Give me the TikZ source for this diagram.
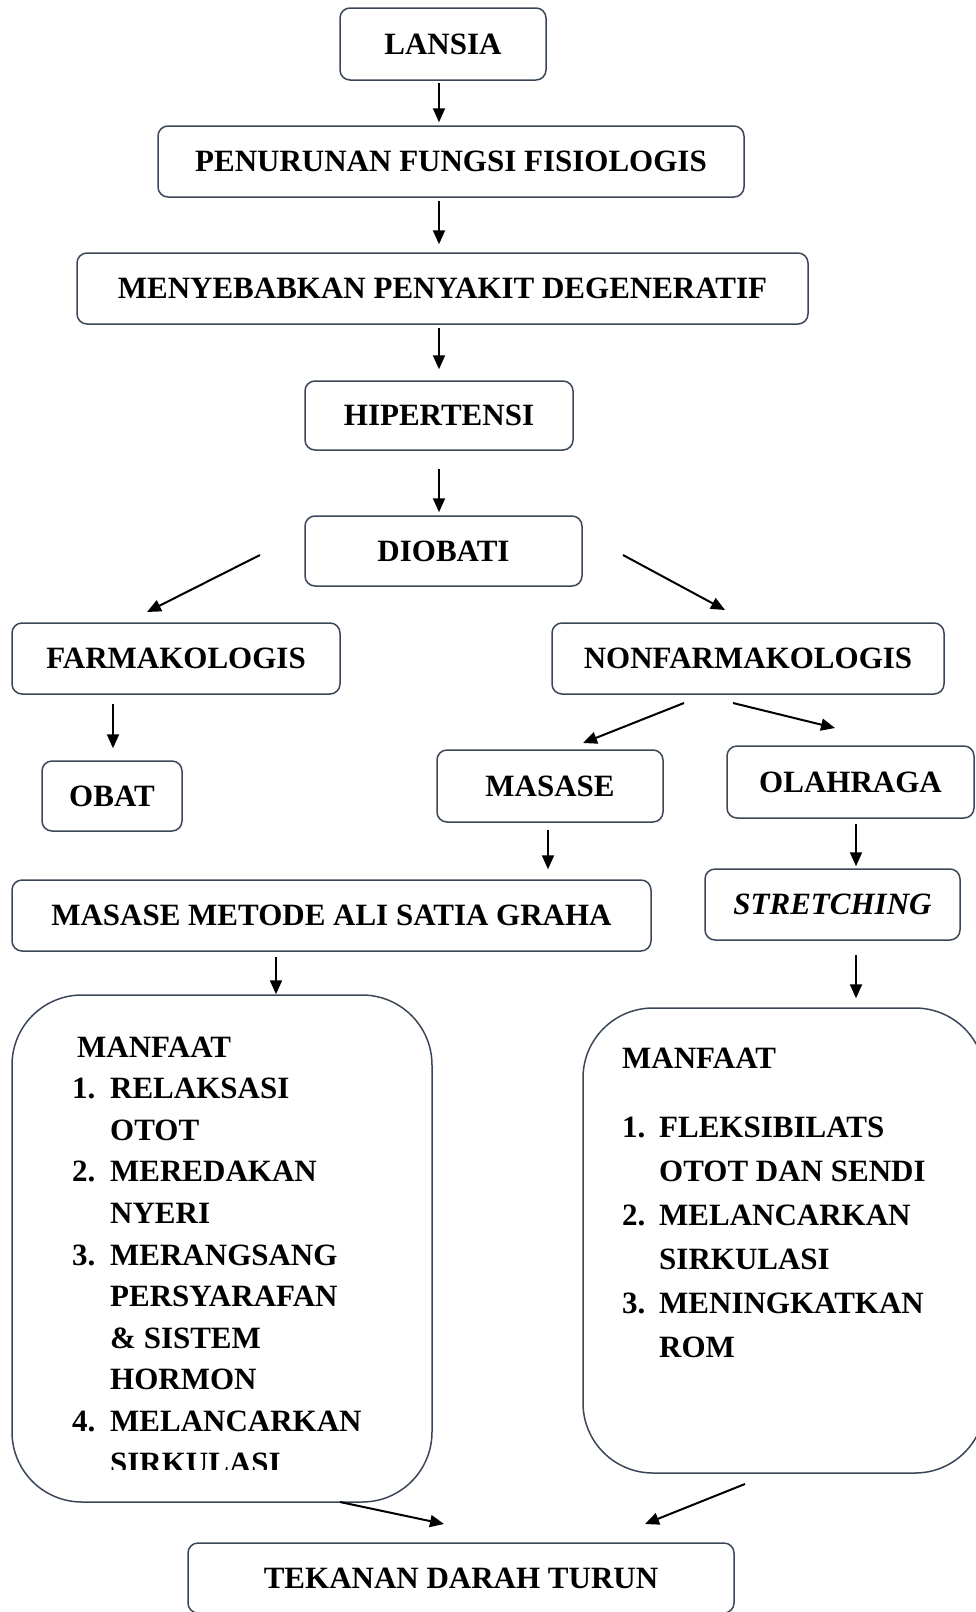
\documentclass[tikz,border=0pt]{standalone}
\usepackage{fontspec}
\setmainfont{Liberation Serif}
\usetikzlibrary{arrows.meta}
\definecolor{bord}{HTML}{3B4759}
\begin{document}
\begin{tikzpicture}[x=1pt,y=-1pt,
  box/.style={draw=bord, line width=1.5pt, rounded corners=10pt, fill=white,
    inner sep=0pt, align=center, font=\fontsize{31}{36}\selectfont\bfseries},
  bigbox/.style={draw=bord, line width=1.5pt, rounded corners=70pt, fill=white, inner sep=0pt},
  listtext/.style={inner sep=0pt, anchor=base west},
  arr/.style={draw=black, line width=2pt, -{Triangle[length=14pt,width=12pt]}}]
\useasboundingbox (0,0) rectangle (976,1612);
\fill[white] (0,0) rectangle (976,1612);

% nodes
\node[box, minimum width=206pt, minimum height=72pt] (lansia) at (443,44) {LANSIA};
\node[box, minimum width=586pt, minimum height=71pt] (pen) at (451,161.5) {PENURUNAN FUNGSI FISIOLOGIS};
\node[box, minimum width=731pt, minimum height=71pt] (meny) at (442.5,288.5) {MENYEBABKAN PENYAKIT DEGENERATIF};
\node[box, minimum width=268pt, minimum height=69pt] (hip) at (439,415.5) {HIPERTENSI};
\node[box, minimum width=277pt, minimum height=70pt] (diob) at (443.5,551) {DIOBATI};
\node[box, minimum width=328pt, minimum height=71pt] (farm) at (176,658.5) {FARMAKOLOGIS};
\node[box, minimum width=392pt, minimum height=71pt] (nonfarm) at (748,658.5) {NONFARMAKOLOGIS};
\node[box, minimum width=140pt, minimum height=70pt] (obat) at (112,796) {OBAT};
\node[box, minimum width=226pt, minimum height=72pt] (masase) at (550,786) {MASASE};
\node[box, minimum width=247pt, minimum height=72pt] (olah) at (850.5,782) {OLAHRAGA};
\node[box, minimum width=639pt, minimum height=71pt] (metode) at (331.5,915.5) {MASASE METODE ALI SATIA GRAHA};
\node[box, minimum width=255pt, minimum height=71pt] (stretch) at (832.5,904.5) {\itshape STRETCHING};
\node[bigbox, minimum width=420pt, minimum height=507pt] (manL) at (222,1248.5) {};
\node[bigbox, minimum width=402pt, minimum height=465pt] (manR) at (784,1240.5) {};
\node[box, minimum width=546pt, minimum height=70pt] (tek) at (461,1578) {TEKANAN DARAH TURUN};

% list texts
\begin{scope}
\clip (0,0) rectangle (976,1469);
\node[listtext, font=\fontsize{31}{41.6}\selectfont\bfseries] (listL) at (72,1057) {%
\begin{tabular}[t]{@{}p{38pt}@{}l@{}}
\multicolumn{2}{@{\hspace{5pt}}l@{}}{MANFAAT}\\
1. & RELAKSASI\\
   & OTOT\\
2. & MEREDAKAN\\
   & NYERI\\
3. & MERANGSANG\\
   & PERSYARAFAN\\
   & \& SISTEM\\
   & HORMON\\
4. & MELANCARKAN\\
   & SIRKULASI
\end{tabular}};
\end{scope}
\node[listtext, font=\fontsize{31}{44}\selectfont\bfseries] (listR) at (622,1068) {%
\begin{tabular}[t]{@{}p{37pt}@{}l@{}}
\multicolumn{2}{@{}l@{}}{MANFAAT}\\[25pt]
1. & FLEKSIBILATS\\
   & OTOT DAN SENDI\\
2. & MELANCARKAN\\
   & SIRKULASI\\
3. & MENINGKATKAN\\
   & ROM
\end{tabular}};

% column coordinates
\coordinate (colA) at (439,0);
\coordinate (colB) at (276,0);
\coordinate (colC) at (113,0);
\coordinate (colD) at (548,0);
\coordinate (colE) at (856,0);

% vertical arrows
\draw[arr, shorten <=2pt, shorten >=3pt] (colA |- lansia.south) -- (colA |- pen.north);
\draw[arr, shorten <=3pt, shorten >=8pt] (colA |- pen.south) -- (colA |- meny.north);
\draw[arr, shorten <=3pt, shorten >=11pt] (colA |- meny.south) -- (colA |- hip.north);
\draw[arr, shorten <=18pt, shorten >=3pt] (colA |- hip.south) -- (colA |- diob.north);
\draw[arr, shorten <=9pt, shorten >=12pt] (colC |- farm.south) -- (colC |- obat.north);
\draw[arr, shorten <=7pt, shorten >=10pt] (colD |- masase.south) -- (colD |- metode.north);
\draw[arr, shorten <=5pt, shorten >=2pt] (colE |- olah.south) -- (colE |- stretch.north);
\draw[arr, shorten <=5pt, shorten >=0pt] (colB |- metode.south) -- (colB |- manL.north);
\draw[arr, shorten <=14pt, shorten >=9pt] (colE |- stretch.south) -- (colE |- manR.north);

% diagonal arrows
\coordinate (d1s) at (260,555); \coordinate (d1e) at (147,612);
\coordinate (d2s) at (623,555); \coordinate (d2e) at (725,610);
\coordinate (d3s) at (684,703); \coordinate (d3e) at (583,743);
\coordinate (d4s) at (733,703); \coordinate (d4e) at (835,728);
\coordinate (d5s) at (340,1502); \coordinate (d5e) at (444,1524);
\coordinate (d6s) at (745,1484); \coordinate (d6e) at (645,1524);
\draw[arr] (d1s) -- (d1e);
\draw[arr] (d2s) -- (d2e);
\draw[arr] (d3s) -- (d3e);
\draw[arr] (d4s) -- (d4e);
\draw[arr] (d5s) -- (d5e);
\draw[arr] (d6s) -- (d6e);
\end{tikzpicture}
\end{document}
